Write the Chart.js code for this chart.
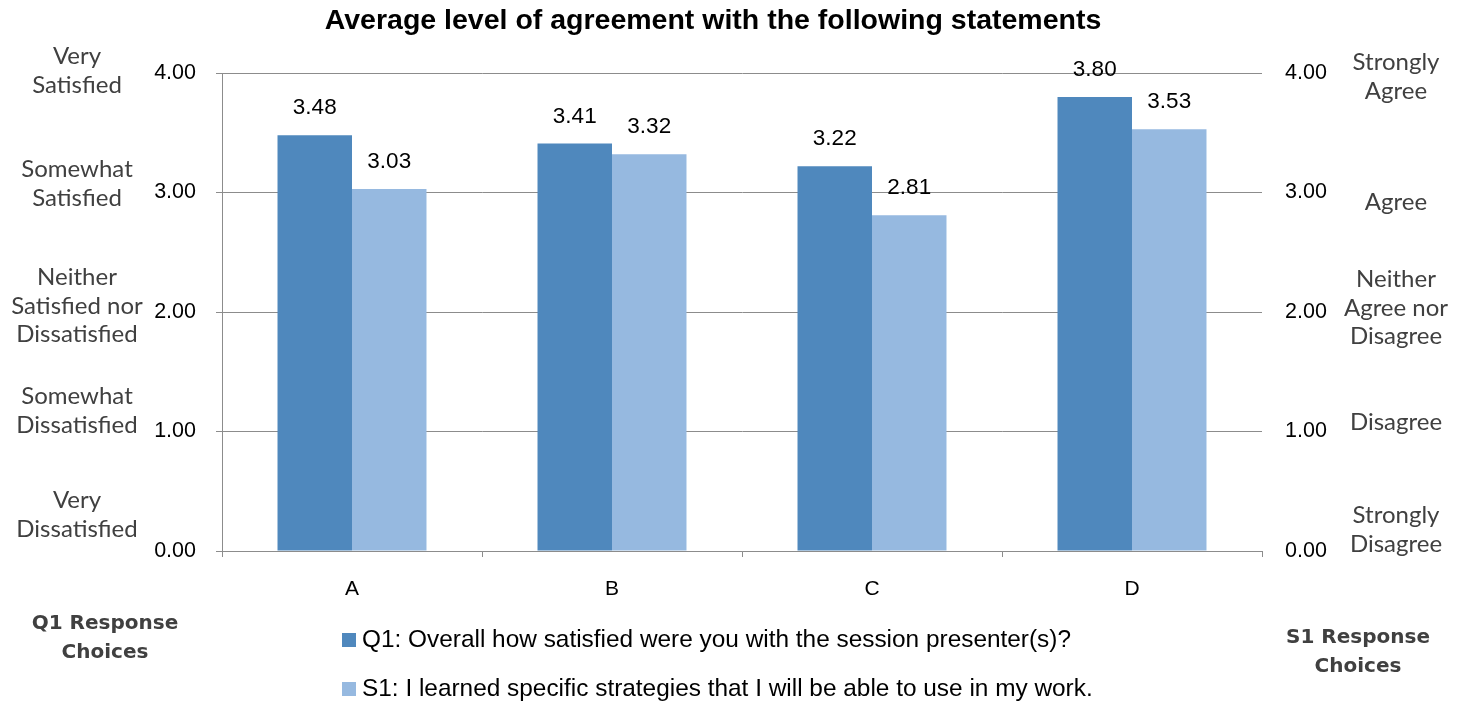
<!DOCTYPE html>
<html>
<head>
<meta charset="utf-8">
<script src="https://cdn.jsdelivr.net/npm/chart.js@4.4.1/dist/chart.umd.min.js"></script>
<style>
  html, body { margin: 0; padding: 0; background: #ffffff; }
  #wrap { width: 1468px; height: 702px; position: relative; }
</style>
</head>
<body>
<div id="wrap"><canvas id="c" width="1468" height="702"></canvas></div>
<script>
// ---- Data ----
const categories = ['A', 'B', 'C', 'D'];
const q1Values = [3.48, 3.41, 3.22, 3.80];
const s1Values = [3.03, 3.32, 2.81, 3.53];
const seriesNames = [
  'Q1: Overall how satisfied were you with the session presenter(s)?',
  'S1: I learned specific strategies that I will be able to use in my work.'
];
const chartTitle = 'Average level of agreement with the following statements';
const leftTickLabels = [
  ['Very', 'Satisfied'],
  ['Somewhat', 'Satisfied'],
  ['Neither', 'Satisfied nor', 'Dissatisfied'],
  ['Somewhat', 'Dissatisfied'],
  ['Very', 'Dissatisfied']
];
const rightTickLabels = [
  ['Strongly', 'Agree'],
  ['Agree'],
  ['Neither', 'Agree nor', 'Disagree'],
  ['Disagree'],
  ['Strongly', 'Disagree']
];
const leftAxisTitle = ['Q1 Response', 'Choices'];
const rightAxisTitle = ['S1 Response', 'Choices'];

// ---- Styles ----
const colQ1 = '#4F88BD';
const colS1 = '#96B9E0';
const gridCol = '#8C8C8C';
const sideCol = '#404040';
const mainFont = '"Liberation Sans", Arial, sans-serif';
const sideFont = 'Lato, "DejaVu Sans", sans-serif';

const overlay = {
  id: 'overlay',
  afterDatasetsDraw(chart) {
    const ctx = chart.ctx;
    ctx.save();
    ctx.fillStyle = '#000';
    ctx.font = '22.5px ' + mainFont;
    ctx.textAlign = 'center';
    ctx.textBaseline = 'middle';
    chart.data.datasets.forEach((ds, di) => {
      const meta = chart.getDatasetMeta(di);
      meta.data.forEach((bar, i) => {
        ctx.fillText(ds.data[i].toFixed(2), bar.x, bar.y - 27);
      });
    });
    ctx.restore();
  },
  afterDraw(chart) {
    const ctx = chart.ctx;
    ctx.save();
    // title
    ctx.fillStyle = '#000';
    ctx.font = 'bold 28.5px ' + mainFont;
    ctx.textAlign = 'center';
    ctx.textBaseline = 'middle';
    ctx.fillText(chartTitle, 713, 21);

    // side category labels
    ctx.fillStyle = sideCol;
    ctx.font = '24px ' + sideFont;
    const leftCenters = [71, 184, 306, 411, 515];
    leftTickLabels.forEach((lines, k) => {
      const n = lines.length;
      lines.forEach((t, j) => {
        ctx.fillText(t, 77, leftCenters[k] + (j - (n - 1) / 2) * 28.5);
      });
    });
    const rightCenters = [77, 202, 308, 422, 530];
    rightTickLabels.forEach((lines, k) => {
      const n = lines.length;
      lines.forEach((t, j) => {
        ctx.fillText(t, 1396, rightCenters[k] + (j - (n - 1) / 2) * 28.5);
      });
    });

    // side axis titles
    ctx.font = 'bold 20px "DejaVu Sans", sans-serif';
    leftAxisTitle.forEach((t, j) => ctx.fillText(t, 105, 624 + j * 29));
    rightAxisTitle.forEach((t, j) => ctx.fillText(t, 1358, 638 + j * 29));

    // legend
    const cols = [colQ1, colS1];
    const rows = [640, 689];
    ctx.font = '24.4px ' + mainFont;
    ctx.textAlign = 'left';
    chart.data.datasets.forEach((ds, i) => {
      ctx.fillStyle = cols[i];
      ctx.fillRect(342, rows[i] - 7, 14, 14);
      ctx.fillStyle = '#000';
      ctx.fillText(ds.label, 362, rows[i]);
    });
    ctx.restore();
  }
};

new Chart(document.getElementById('c'), {
  type: 'bar',
  data: {
    labels: categories,
    datasets: [
      { label: seriesNames[0], data: q1Values, backgroundColor: colQ1, yAxisID: 'y' },
      { label: seriesNames[1], data: s1Values, backgroundColor: colS1, yAxisID: 'y' }
    ]
  },
  options: {
    responsive: false,
    animation: false,
    devicePixelRatio: 1,
    categoryPercentage: 0.573,
    barPercentage: 1.0,
    layout: { padding: { top: 73, left: 0, right: 0, bottom: 0 } },
    plugins: { legend: { display: false }, title: { display: false }, tooltip: { enabled: false } },
    scales: {
      x: {
        afterFit: s => { s.height = 151; },
        grid: { offset: true, drawOnChartArea: false, color: gridCol, tickLength: 6, lineWidth: 1 },
        border: { color: gridCol, width: 1 },
        ticks: { color: '#000', font: { family: mainFont, size: 21 }, padding: 20 }
      },
      y: {
        position: 'left',
        min: 0, max: 4,
        afterFit: s => { s.width = 222; },
        grid: { color: gridCol, tickLength: 6, lineWidth: 1 },
        border: { color: gridCol, width: 1 },
        ticks: { stepSize: 1, color: '#000', font: { family: mainFont, size: 21.5 }, padding: 20,
                 callback: v => Number(v).toFixed(2) }
      },
      y2: {
        position: 'right',
        min: 0, max: 4,
        afterFit: s => { s.width = 206; },
        grid: { display: false, drawTicks: false },
        border: { display: false },
        ticks: { stepSize: 1, color: '#000', font: { family: mainFont, size: 21.5 }, padding: 23,
                 callback: v => Number(v).toFixed(2) }
      }
    }
  },
  plugins: [overlay]
});
</script>
</body>
</html>
